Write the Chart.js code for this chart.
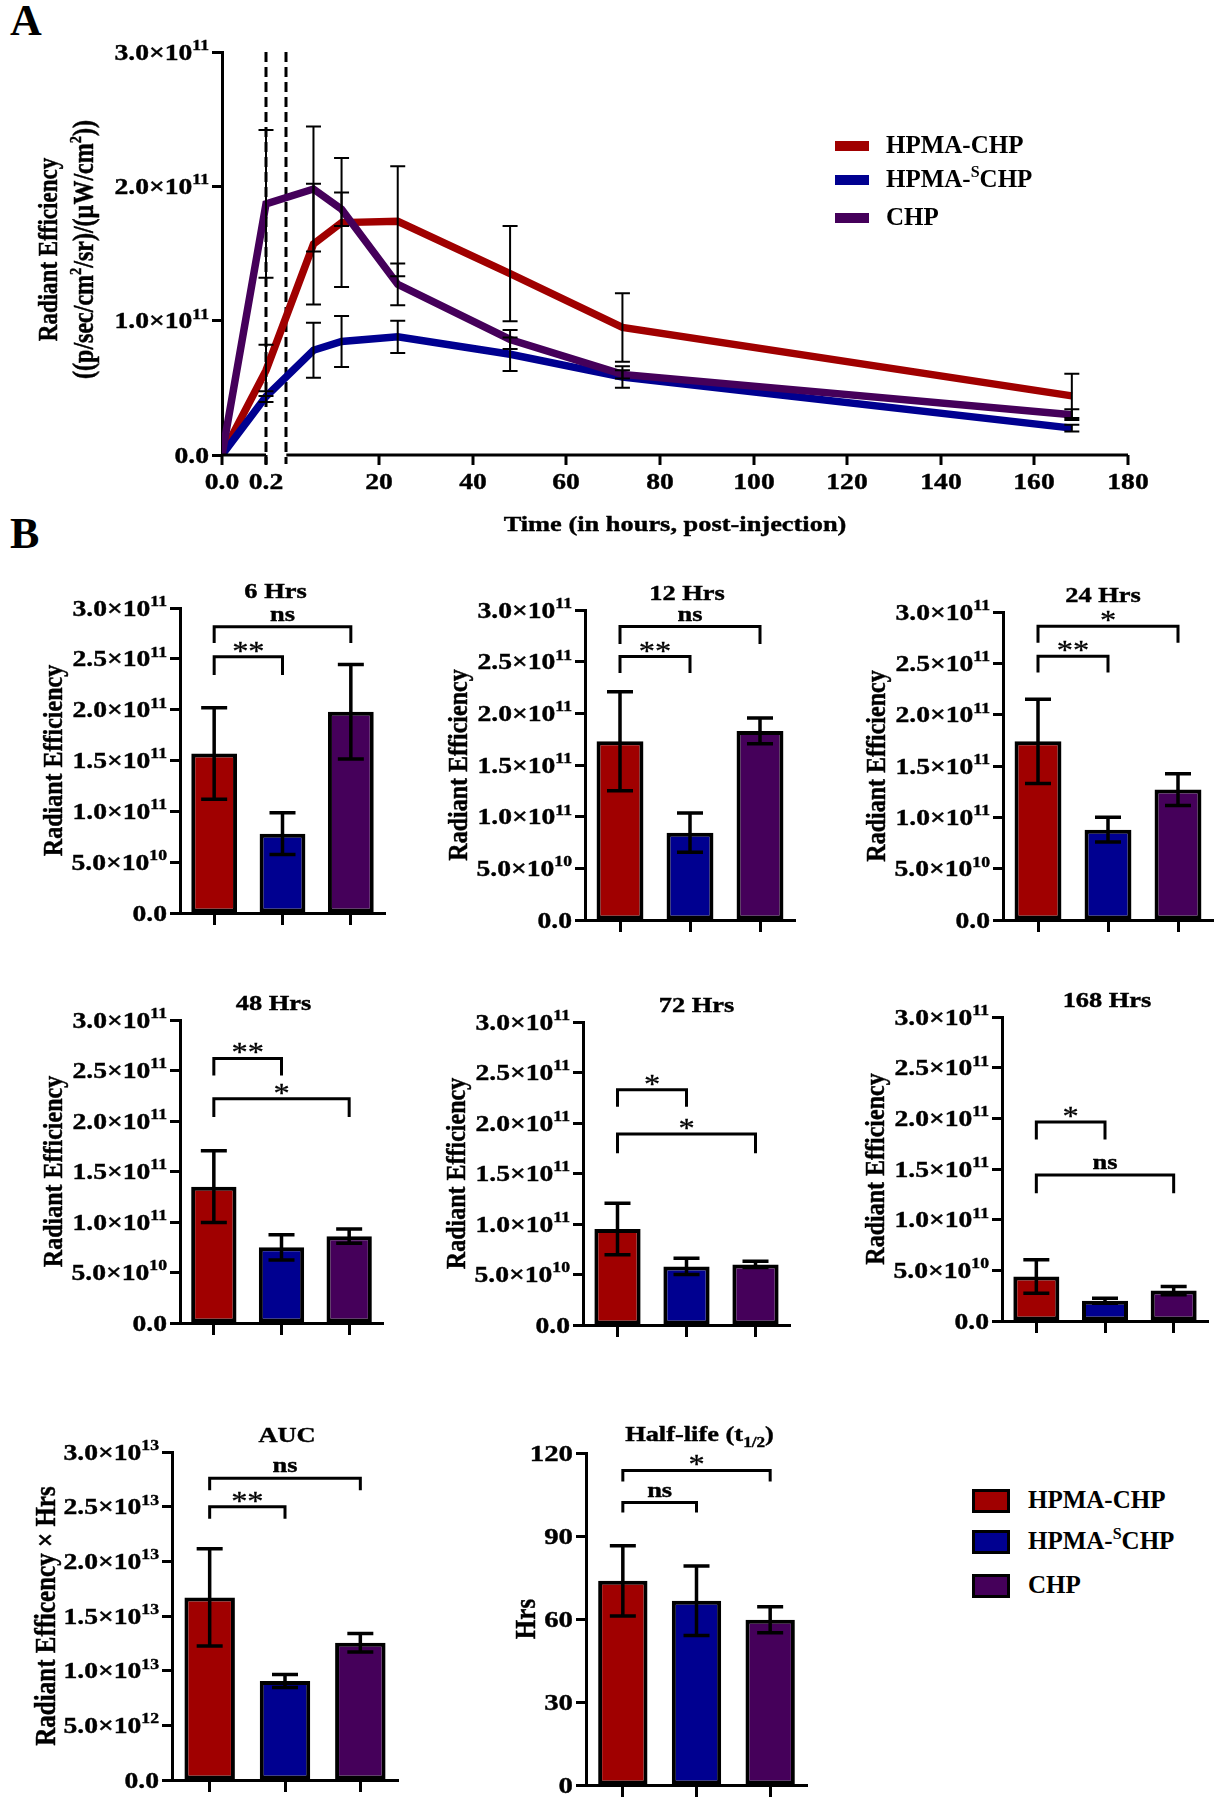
<!DOCTYPE html>
<html>
<head>
<meta charset="utf-8">
<title>Radiant efficiency of HPMA-CHP, HPMA-SCHP and CHP</title>
<script src="https://cdn.jsdelivr.net/npm/chart.js@4.4.1/dist/chart.umd.min.js"></script>
<style>
  html, body { margin: 0; padding: 0; background: #fff; }
  #page { position: relative; width: 1223px; height: 1800px; overflow: hidden;
          font-family: 'Liberation Serif', 'Times New Roman', serif; color: #000; }
  #page canvas { position: absolute; }
  .tag { position: absolute; left: 10px; font-size: 44px; font-weight: bold; line-height: 44px; }
  .key { position: absolute; font-size: 25px; font-weight: bold; line-height: 25px; white-space: nowrap; }
  .key sup { font-size: 16px; vertical-align: 0; position: relative; top: -10px; }
  .swatch { position: absolute; box-sizing: border-box; }
</style>
</head>
<body>
<div id="page">
  <div class="tag" style="top:-1px">A</div>
  <div class="tag" style="top:512px">B</div>
</div>
<script>
const FONT = "'Liberation Serif', 'Times New Roman', serif";

// groups
const groupNames = ['HPMA-CHP', 'HPMA-SCHP', 'CHP'];
const groupColors = ['#a00000', '#000090', '#45005a'];

// panel A: time course (hours) and radiant efficiency, mean and SD
const timePoints = [0, 0.2, 6, 12, 24, 48, 72, 168];
const hpmaChp    = [0, 0.63e11, 1.57e11, 1.73e11, 1.74e11, 1.35e11, 0.95e11, 0.44e11];
const hpmaChpSd  = [0, 0.19e11, 0.45e11, 0.48e11, 0.41e11, 0.355e11, 0.255e11, 0.165e11];
const hpmaSChp   = [0, 0.435e11, 0.78e11, 0.845e11, 0.88e11, 0.75e11, 0.58e11, 0.20e11];
const hpmaSChpSd = [0, 0.04e11, 0.205e11, 0.19e11, 0.12e11, 0.125e11, 0.08e11, 0.025e11];
const chp        = [0, 1.87e11, 1.98e11, 1.83e11, 1.27e11, 0.86e11, 0.60e11, 0.30e11];
const chpSd      = [0, 0.55e11, 0.465e11, 0.125e11, 0.155e11, 0.07e11, 0.03e11, 0.04e11];
const timeTicks  = [0, 0.2, 20, 40, 60, 80, 100, 120, 140, 160, 180];
const timeTickLabels = ['0.0', '0.2', '20', '40', '60', '80', '100', '120', '140', '160', '180'];

// AUC and half-life
const aucMean  = [1.67e13, 0.905e13, 1.255e13];
const aucSd    = [0.445e13, 0.06e13, 0.085e13];
const halfMean = [73.8, 66.6, 59.7];
const halfSd   = [12.7, 12.6, 4.7];

// significance brackets: [from, to, bar level, foot level, label]
const sig6   = [[0, 1, 2.52e11, 2.34e11, '**'], [0, 2, 2.815e11, 2.655e11, 'ns']];
const sig12  = [[0, 1, 2.55e11, 2.39e11, '**'], [0, 2, 2.84e11, 2.67e11, 'ns']];
const sig24  = [[0, 1, 2.57e11, 2.41e11, '**'], [0, 2, 2.86e11, 2.70e11, '*']];
const sig48  = [[0, 1, 2.62e11, 2.45e11, '**'], [0, 2, 2.22e11, 2.04e11, '*']];
const sig72  = [[0, 1, 2.33e11, 2.16e11, '*'], [0, 2, 1.89e11, 1.70e11, '*']];
const sig168 = [[0, 1, 1.965e11, 1.79e11, '*'], [0, 2, 1.44e11, 1.26e11, 'ns']];
const sigAuc = [[0, 1, 2.50e13, 2.39e13, '**'], [0, 2, 2.76e13, 2.65e13, 'ns']];
const sigHalf = [[0, 1, 102.1, 98.5, 'ns'], [0, 2, 113.7, 109.7, '*']];

// broken time axis: 0-0.2 h stretched, then the regular hours
const LEFT_U_PER_HOUR = 47;
const RIGHT_U_OFFSET = 13.54;
function toAxis(t) {
  return t <= 0.2 ? t * LEFT_U_PER_HOUR : RIGHT_U_OFFSET + t;
}

const page = document.getElementById('page');

function makeCanvas(left, top, w, h) {
  const c = document.createElement('canvas');
  c.width = w; c.height = h;
  c.style.left = left + 'px'; c.style.top = top + 'px';
  c.style.width = w + 'px'; c.style.height = h + 'px';
  page.appendChild(c);
  return c;
}

// text with optional super/subscripts, horizontally stretched like the figure
function rich(ctx, parts, x, y, o) {
  if (typeof parts === 'string') parts = [[parts, 0]];
  const sx = o.sx || 1;
  ctx.save();
  ctx.translate(x, y);
  if (o.rotate) { ctx.rotate(-Math.PI / 2); ctx.scale(1, sx); } else { ctx.scale(sx, 1); }
  ctx.fillStyle = '#000';
  ctx.strokeStyle = '#000';
  ctx.lineWidth = o.heavy || 0;
  ctx.textBaseline = 'alphabetic';
  ctx.textAlign = 'left';
  const items = parts.map(([t, k]) => {
    const size = k ? o.size * (o.small || 0.6) : o.size;
    const font = (o.weight || 'bold') + ' ' + size + 'px ' + FONT;
    ctx.font = font;
    return { t, k, font, w: ctx.measureText(t).width };
  });
  const total = items.reduce((a, b) => a + b.w, 0);
  let cx = o.align === 'right' ? -total : o.align === 'center' ? -total / 2 : 0;
  items.forEach(it => {
    ctx.font = it.font;
    const dy = it.k === 1 ? -o.size * 0.42 : it.k === -1 ? o.size * 0.25 : 0;
    ctx.fillText(it.t, cx, dy);
    if (o.heavy) ctx.strokeText(it.t, cx, dy);
    cx += it.w;
  });
  ctx.restore();
}

function sciParts(v, plain) {
  if (plain) return [[String(v), 0]];
  if (v === 0) return [['0.0', 0]];
  const e = Math.floor(Math.log10(v) + 1e-9);
  const m = v / Math.pow(10, e);
  return [[m.toFixed(1) + '×10', 0], [String(e), 1]];
}

function errorBar(ctx, x, yHi, yLo, cap) {
  ctx.beginPath();
  ctx.moveTo(x, yHi); ctx.lineTo(x, yLo);
  ctx.moveTo(x - cap / 2, yHi); ctx.lineTo(x + cap / 2, yHi);
  ctx.moveTo(x - cap / 2, yLo); ctx.lineTo(x + cap / 2, yLo);
  ctx.stroke();
}

const TICK = { size: 23, align: 'right', sx: 1.2, small: 0.64, heavy: 0.4 };

// ---------- panel A ----------
const timeSeries = [
  { mean: hpmaChp, sd: hpmaChpSd, order: 3 },
  { mean: hpmaSChp, sd: hpmaSChpSd, order: 2 },
  { mean: chp, sd: chpSd, order: 1 }
];

const panelAPlugin = {
  id: 'panelA',
  beforeDatasetsDraw(chart) {
    const { ctx, chartArea, scales: { x } } = chart;
    ctx.save();
    ctx.strokeStyle = '#000';
    ctx.lineWidth = 3;
    ctx.setLineDash([10, 5]);
    [toAxis(0.2), RIGHT_U_OFFSET + 0.2].forEach(u => {
      const px = Math.round(x.getPixelForValue(u));
      ctx.beginPath();
      ctx.moveTo(px, chartArea.top);
      ctx.lineTo(px, chartArea.bottom + 9);
      ctx.stroke();
    });
    ctx.restore();
  },
  afterDatasetsDraw(chart) {
    const { ctx, scales: { x, y } } = chart;
    ctx.save();
    ctx.strokeStyle = '#000';
    ctx.lineWidth = 2;
    timeSeries.forEach(s => {
      timePoints.forEach((t, i) => {
        if (!s.sd[i]) return;
        const px = x.getPixelForValue(toAxis(t));
        errorBar(ctx, px, y.getPixelForValue(s.mean[i] + s.sd[i]), y.getPixelForValue(s.mean[i] - s.sd[i]), 15);
      });
    });
    ctx.restore();
  },
  afterDraw(chart) {
    const { ctx, chartArea, scales: { x, y } } = chart;
    const y0 = chartArea.bottom;
    ctx.save();
    ctx.strokeStyle = '#000';
    ctx.lineWidth = 3;
    // x axis in two pieces around the break
    ctx.beginPath();
    ctx.moveTo(x.getPixelForValue(toAxis(0)), y0); ctx.lineTo(x.getPixelForValue(toAxis(0.2)), y0);
    ctx.moveTo(x.getPixelForValue(RIGHT_U_OFFSET + 0.2), y0); ctx.lineTo(x.getPixelForValue(toAxis(180)), y0);
    ctx.stroke();
    timeTicks.forEach((t, i) => {
      const px = Math.round(x.getPixelForValue(toAxis(t)));
      ctx.beginPath(); ctx.moveTo(px, y0); ctx.lineTo(px, y0 + 10); ctx.stroke();
      rich(ctx, timeTickLabels[i], px, y0 + 34, { size: 23, align: 'center', sx: 1.2, heavy: 0.4 });
    });
    ctx.restore();
    y.ticks.forEach(tk => {
      rich(ctx, sciParts(tk.value), chartArea.left - 13, y.getPixelForValue(tk.value) + 7.5, TICK);
    });
    rich(ctx, 'Time (in hours, post-injection)', (chartArea.left + chartArea.right) / 2, 531,
      { size: 22, align: 'center', sx: 1.2, heavy: 0.4 });
    const cy = (chartArea.top + chartArea.bottom) / 2 - 4;
    rich(ctx, 'Radiant Efficiency', 49 + 8, cy, { size: 23, align: 'center', rotate: true, sx: 1.2, heavy: 0.4 });
    rich(ctx, [['((p/sec/cm', 0], ['2', 1], ['/sr)/(µW/cm', 0], ['2', 1], ['))', 0]], 85 + 8, cy,
      { size: 24, align: 'center', rotate: true, sx: 1.2, heavy: 0.4 });
  }
};

new Chart(makeCanvas(0, 0, 1223, 540), {
  type: 'line',
  data: {
    datasets: timeSeries.map((s, k) => ({
      label: groupNames[k],
      data: timePoints.map((t, i) => ({ x: toAxis(t), y: s.mean[i] })),
      borderColor: groupColors[k],
      borderWidth: 7.5,
      pointRadius: 0,
      tension: 0,
      fill: false,
      order: s.order
    }))
  },
  options: {
    responsive: false, animation: false, devicePixelRatio: 1, events: [],
    layout: { padding: { left: 212, top: 52, right: 95, bottom: 85 } },
    plugins: { legend: { display: false }, tooltip: { enabled: false } },
    scales: {
      x: { type: 'linear', display: false, min: 0, max: toAxis(180) },
      y: {
        min: 0, max: 3e11,
        ticks: { display: false, stepSize: 1e11 },
        grid: { drawOnChartArea: false, tickLength: 10, tickWidth: 3, tickColor: '#000' },
        border: { color: '#000', width: 3 }
      }
    }
  },
  plugins: [panelAPlugin]
});

// ---------- panel B ----------
function barPanelPlugin(s) {
  return {
    id: 'barPanel',
    afterDatasetsDraw(chart) {
      const { ctx, scales: { y } } = chart;
      const meta = chart.getDatasetMeta(0);
      ctx.save();
      ctx.strokeStyle = '#000';
      ctx.lineWidth = 3.5;
      meta.data.forEach((bar, i) => {
        errorBar(ctx, bar.x, y.getPixelForValue(s.mean[i] + s.sd[i]), y.getPixelForValue(s.mean[i] - s.sd[i]), 26);
      });
      ctx.restore();
    },
    afterDraw(chart) {
      const { ctx, chartArea, scales: { y } } = chart;
      const meta = chart.getDatasetMeta(0);
      ctx.save();
      ctx.strokeStyle = '#000';
      ctx.lineWidth = 3;
      s.brackets.forEach(([a, b, top, foot, label]) => {
        const x1 = meta.data[a].x, x2 = meta.data[b].x;
        const yt = y.getPixelForValue(top), yf = y.getPixelForValue(foot);
        ctx.beginPath();
        ctx.moveTo(x1, yf); ctx.lineTo(x1, yt); ctx.lineTo(x2, yt); ctx.lineTo(x2, yf);
        ctx.stroke();
        const star = label.indexOf('*') >= 0;
        rich(ctx, label, (x1 + x2) / 2, star ? yt + 3 : yt - 6,
          { size: star ? 27 : 22, weight: star ? 'normal' : 'bold', align: 'center', sx: 1.2, heavy: star ? 0.3 : 0.4 });
      });
      ctx.restore();
      y.ticks.forEach(tk => {
        rich(ctx, sciParts(tk.value, s.plainTicks), chartArea.left - 13, y.getPixelForValue(tk.value) + 7.5,
          Object.assign({}, TICK, s.plainTicks ? { size: 24 } : {}));
      });
      rich(ctx, s.title, (chartArea.left + chartArea.right) / 2 + s.titleDx, chartArea.top - s.titleGap,
        { size: 22, align: 'center', sx: 1.2, small: 0.65, heavy: 0.4 });
      rich(ctx, s.yTitle, chartArea.left - s.yTitleGap + 8, (chartArea.top + chartArea.bottom) / 2,
        { size: s.yTitleSize, align: 'center', rotate: true, sx: 1.15, heavy: 0.4 });
    }
  };
}

function makeBarChart(s) {
  const padL = 175, padT = 85, padR = 15, padB = 20;
  const w = s.R - s.L + padL + padR, h = s.B - s.T + padT + padB;
  return new Chart(makeCanvas(s.L - padL, s.T - padT, w, h), {
    type: 'bar',
    data: {
      labels: groupNames,
      datasets: [{
        data: s.mean,
        backgroundColor: groupColors,
        borderColor: '#000',
        borderWidth: 4,
        borderSkipped: false,
        barPercentage: 0.67,
        categoryPercentage: 1
      }]
    },
    options: {
      responsive: false, animation: false, devicePixelRatio: 1, events: [],
      layout: { padding: { left: padL - 10, top: padT, right: padR, bottom: padB - 12 } },
      plugins: { legend: { display: false }, tooltip: { enabled: false } },
      scales: {
        x: {
          ticks: { display: false },
          grid: { offset: false, drawOnChartArea: false, tickLength: 12, tickWidth: 3, tickColor: '#000' },
          border: { color: '#000', width: 3 }
        },
        y: {
          min: 0, max: s.max,
          ticks: { display: false, stepSize: s.step },
          grid: { drawOnChartArea: false, tickLength: 10, tickWidth: 3, tickColor: '#000' },
          border: { color: '#000', width: 3 }
        }
      }
    },
    plugins: [barPanelPlugin(s)]
  });
}

const timePanels = [
  { title: '6 Hrs',   at: 2, L: 180,  R: 385,  T: 608,  B: 913,  titleDx: -7, brackets: sig6 },
  { title: '12 Hrs',  at: 3, L: 585,  R: 795,  T: 610,  B: 920,  titleDx: -3, brackets: sig12 },
  { title: '24 Hrs',  at: 4, L: 1003, R: 1213, T: 612,  B: 920,  titleDx: -5, brackets: sig24 },
  { title: '48 Hrs',  at: 5, L: 180,  R: 383,  T: 1020, B: 1323, titleDx: -8, brackets: sig48 },
  { title: '72 Hrs',  at: 6, L: 583,  R: 790,  T: 1022, B: 1325, titleDx: 10, brackets: sig72 },
  { title: '168 Hrs', at: 7, L: 1002, R: 1208, T: 1017, B: 1321, titleDx: 2,  brackets: sig168 }
];

timePanels.forEach(p => makeBarChart(Object.assign({}, p, {
  mean: [hpmaChp[p.at], hpmaSChp[p.at], chp[p.at]],
  sd: [hpmaChpSd[p.at], hpmaSChpSd[p.at], chpSd[p.at]],
  max: 3e11, step: 5e10, titleGap: 10,
  yTitle: 'Radiant Efficiency', yTitleSize: 24, yTitleGap: 126
})));

makeBarChart({
  title: 'AUC', L: 172, R: 398, T: 1452, B: 1780, titleDx: 2, titleGap: 10,
  mean: aucMean, sd: aucSd, max: 3e13, step: 5e12, brackets: sigAuc,
  yTitle: 'Radiant Efficency × Hrs', yTitleSize: 25, yTitleGap: 125
});

makeBarChart({
  title: [['Half-life (t', 0], ['1/2', -1], [')', 0]], L: 586, R: 807, T: 1453, B: 1785, titleDx: 3, titleGap: 12,
  mean: halfMean, sd: halfSd, max: 120, step: 30, plainTicks: true, brackets: sigHalf,
  yTitle: 'Hrs', yTitleSize: 25, yTitleGap: 59
});

// ---------- legends ----------
function keyLabel(name) { return name.replace('-SCHP', '-<sup>S</sup>CHP'); }

function addDiv(cls, css, html) {
  const d = document.createElement('div');
  d.className = cls;
  d.style.cssText = css;
  if (html) d.innerHTML = html;
  page.appendChild(d);
}

[146, 180, 218].forEach((cy, i) => {
  addDiv('swatch', `left:835px;top:${cy - 5}px;width:34px;height:10px;background:${groupColors[i]}`);
  addDiv('key', `left:886px;top:${cy - 14}px`, keyLabel(groupNames[i]));
});

[1501, 1542, 1586].forEach((cy, i) => {
  addDiv('swatch', `left:972px;top:${cy - 12}px;width:38px;height:24px;background:${groupColors[i]};border:3px solid #000`);
  addDiv('key', `left:1028px;top:${cy - 14}px`, keyLabel(groupNames[i]));
});
</script>
</body>
</html>
